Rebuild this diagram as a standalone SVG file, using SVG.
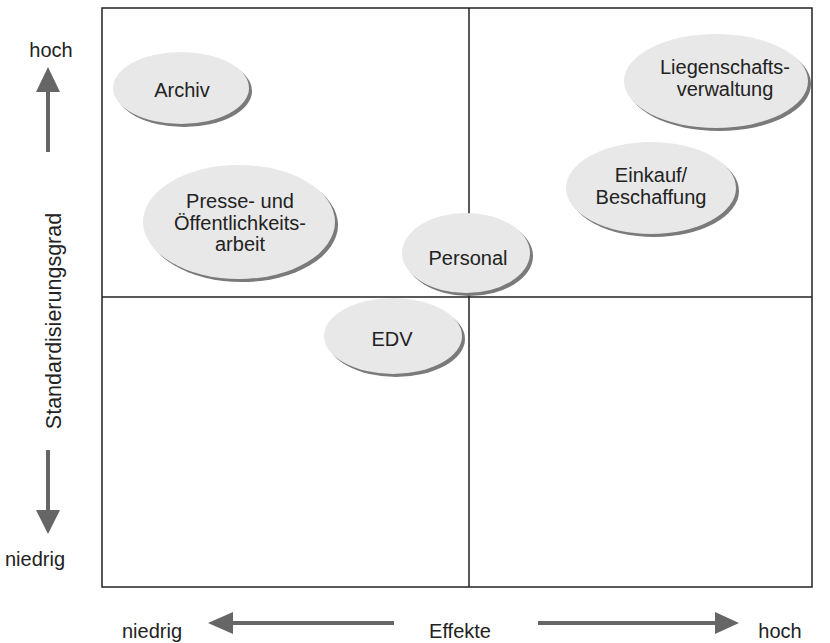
<svg xmlns="http://www.w3.org/2000/svg" width="830" height="643" viewBox="0 0 830 643">
<style>
text{font-family:"Liberation Sans",Arial,sans-serif;font-size:20px;fill:#222;}
.lbl{text-anchor:middle;}
.node .sh{fill:#7a7a7a;}
.node .bd{fill:#e8e8e8;}
.ax{fill:#666;}
</style>
<rect width="830" height="643" fill="#fff"/>
<g id="frame" fill="none" stroke="#222" stroke-width="1.5">
<rect x="102" y="8" width="710" height="579"/>
<line x1="469" y1="8" x2="469" y2="587"/>
<line x1="102" y1="297" x2="812" y2="297"/>
</g>
<g id="connectors">
<rect class="ax" x="46" y="90" width="4" height="62"/>
<polygon class="ax" points="36,92 60,92 48,67"/>
<rect class="ax" x="46" y="450" width="4" height="62"/>
<polygon class="ax" points="36,510 60,510 48,534"/>
<rect class="ax" x="230" y="621" width="164" height="4"/>
<polygon class="ax" points="233,612 233,634 208,623"/>
<rect class="ax" x="538" y="621" width="180" height="4"/>
<polygon class="ax" points="715,612 715,634 739,623"/>
</g>
<g id="archiv" class="node"><ellipse class="sh" cx="184" cy="91" rx="68" ry="36"/><ellipse class="bd" cx="181" cy="88" rx="68" ry="36"/><text class="lbl" x="182" y="97">Archiv</text></g>
<g id="presse" class="node"><ellipse class="sh" cx="242" cy="225" rx="96" ry="57"/><ellipse class="bd" cx="239" cy="222" rx="96" ry="57"/><text class="lbl" x="240" y="208">Presse- und</text><text class="lbl" x="240" y="230">Öffentlichkeits-</text><text class="lbl" x="240" y="251">arbeit</text></g>
<g id="personal" class="node"><ellipse class="sh" cx="469" cy="256" rx="64" ry="40"/><ellipse class="bd" cx="466" cy="253" rx="64" ry="40"/><text class="lbl" x="468" y="265">Personal</text></g>
<g id="edv" class="node"><ellipse class="sh" cx="396" cy="339" rx="69" ry="38"/><ellipse class="bd" cx="393" cy="336" rx="69" ry="38"/><text class="lbl" x="392" y="346">EDV</text></g>
<g id="liegenschaft" class="node"><ellipse class="sh" cx="719" cy="84" rx="92" ry="47"/><ellipse class="bd" cx="716" cy="81" rx="92" ry="47"/><text class="lbl" x="725" y="74">Liegenschafts-</text><text class="lbl" x="725" y="96">verwaltung</text></g>
<g id="einkauf" class="node"><ellipse class="sh" cx="654" cy="191" rx="85" ry="46"/><ellipse class="bd" cx="651" cy="188" rx="85" ry="46"/><text class="lbl" x="651" y="182">Einkauf/</text><text class="lbl" x="651" y="204">Beschaffung</text></g>
<g id="labels">
<text class="lbl" x="51" y="57">hoch</text>
<text class="lbl" x="35" y="566">niedrig</text>
<text class="lbl" style="font-size:21.5px" transform="translate(61,321) rotate(-90)">Standardisierungsgrad</text>
<text class="lbl" x="152" y="638">niedrig</text>
<text class="lbl" x="460" y="638">Effekte</text>
<text class="lbl" x="780" y="638">hoch</text>
</g>
</svg>
